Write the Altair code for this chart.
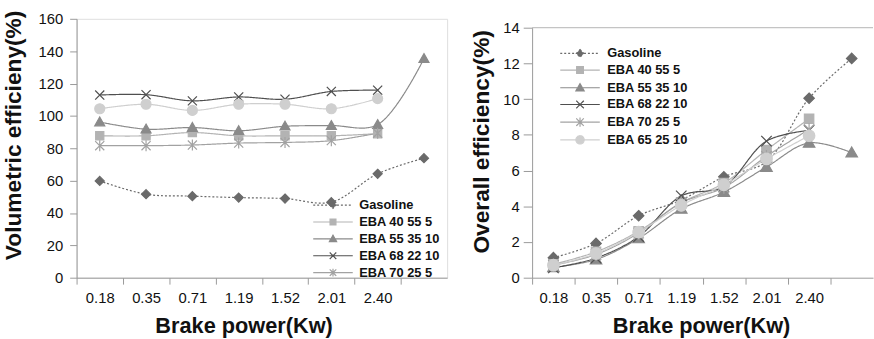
import altair as alt
import pandas as pd

# Brake power categories (the last one carries no label on the axis)
power = ["0.18", "0.35", "0.71", "1.19", "1.52", "2.01", "2.40", " "]

series = ["Gasoline", "EBA 40 55 5", "EBA 55 35 10", "EBA 68 22 10", "EBA 70 25 5", "EBA 65 25 10"]

# Volumetric efficiency (%)
vol_gasoline = [59.8, 51.6, 50.4, 49.5, 48.9, 46.7, 64.2, 73.9]
vol_eba_40_55_5 = [87.7, 87.7, 89.7, 87.7, 87.7, 87.7, 89.0, None]
vol_eba_55_35_10 = [96.2, 91.8, 92.8, 90.8, 93.6, 94.0, 94.6, 135.4]
vol_eba_68_22_10 = [112.9, 113.1, 109.3, 111.7, 110.3, 115.1, 115.9, None]
vol_eba_70_25_5 = [81.6, 81.6, 82.0, 83.2, 83.6, 84.7, 89.3, None]
vol_eba_65_25_10 = [104.4, 107.2, 103.4, 107.2, 107.2, 104.4, 110.7, None]

# Overall efficiency (%)
eff_gasoline = [1.12, 1.92, 3.47, 4.35, 5.65, 6.5, 10.05, 12.28]
eff_eba_40_55_5 = [0.75, 1.45, 2.6, 4.2, 5.3, 7.15, 8.9, None]
eff_eba_55_35_10 = [0.58, 1.02, 2.2, 3.85, 4.8, 6.2, 7.55, 7.0]
eff_eba_68_22_10 = [0.55, 1.1, 2.3, 4.58, 5.1, 7.65, 8.25, None]
eff_eba_70_25_5 = [0.7, 1.3, 2.5, 4.2, 5.05, 6.8, 8.3, None]
eff_eba_65_25_10 = [0.7, 1.35, 2.55, 4.05, 5.2, 6.65, 7.95, None]

vol_legend = ["Gasoline", "EBA 40 55 5", "EBA 55 35 10", "EBA 68 22 10", "EBA 70 25 5"]
eff_legend = series

# grey-scale styling per series
greys = ["#6a6a6a", "#b3b3b3", "#8a8a8a", "#4f4f4f", "#a2a2a2", "#cfcfcf"]
dashes = [[2, 2], [1, 0], [1, 0], [1, 0], [1, 0], [1, 0]]

FONT = "Liberation Sans"
TEXT = "#111111"
FRAME = "#b5b5b5"


def markers(r):
    """Marker outlines in pixel units (symbol size 4 gives unit scale)."""
    c = r * 1.1
    return [
        f"M0,{-r}L{r},0L0,{r}L{-r},0Z",
        f"M{-r*0.9},{-r*0.9}H{r*0.9}V{r*0.9}H{-r*0.9}Z",
        f"M0,{-c}L{c},{c*0.75}H{-c}Z",
        f"M{-r},{-r}L{r},{r}M{-r},{r}L{r},{-r}",
        f"M{-r},{-r}L{r},{r}M{-r},{r}L{r},{-r}M0,{-c*1.1}V{c*1.1}",
        f"M{-c},0A{c},{c},0,1,0,{c},0A{c},{c},0,1,0,{-c},0Z",
    ]


def legend_symbols(r, half):
    return [f"M{-half},0H{half}" + m for m in markers(r)]


def long_table(columns):
    rows = []
    for s, vals in zip(series, columns):
        for i, (p, v) in enumerate(zip(power, vals)):
            if v is not None:
                rows.append({"power": p, "series": s, "value": v, "idx": i})
    return pd.DataFrame(rows)


def panel(df, legend_names, y_title, y_max, y_step, width, height, top_gap, marker_r,
          legend_x, legend_y, row_pad, label_off, y_tick, y_pad, y_title_x, y_title_y,
          x_title_x, framed):
    step = width / len(power)
    x = alt.X(
        "power:N",
        sort=power,
        scale=alt.Scale(type="point", domain=power, padding=0.5),
        axis=alt.Axis(
            title="Brake power(Kw)",
            titleFont=FONT, titleFontSize=22, titleFontWeight="bold", titleColor=TEXT,
            titleX=x_title_x, titleY=55, titleBaseline="alphabetic", titleAlign="center",
            labelFont=FONT, labelFontSize=15, labelColor=TEXT, labelAngle=0,
            labelBaseline="alphabetic", labelPadding=19,
            tickSize=6.5, tickOffset=-step / 2, labelOffset=step / 2,
            domainColor="#999999", tickColor="#999999", grid=False,
        ),
    )
    y = alt.Y(
        "value:Q",
        scale=alt.Scale(domain=[0, y_max], nice=False, zero=True, range=[height, top_gap]),
        axis=alt.Axis(
            title=y_title,
            values=list(range(0, y_max + 1, y_step)),
            labelOverlap=False,
            titleFont=FONT, titleFontSize=23, titleFontWeight="bold", titleColor=TEXT,
            titleX=y_title_x, titleY=y_title_y, titleAlign="center", titleBaseline="bottom",
            labelFont=FONT, labelFontSize=15, labelColor=TEXT, labelPadding=y_pad,
            tickSize=y_tick, domainColor="#999999", tickColor="#999999", grid=False,
        ),
    )
    sdom = alt.Scale(domain=series, range=greys)

    lines = alt.Chart(df).mark_line(interpolate="catmull-rom", strokeWidth=1.2).encode(
        x=x, y=y,
        color=alt.Color("series:N", scale=sdom, legend=None),
        strokeDash=alt.StrokeDash("series:N", scale=alt.Scale(domain=series, range=dashes), legend=None),
        order=alt.Order("idx:Q"),
    )
    points = alt.Chart(df).mark_point(filled=True, size=4, strokeWidth=1.2, opacity=1).encode(
        x=x, y=y,
        fill=alt.Fill("series:N", scale=sdom, legend=None),
        stroke=alt.Stroke("series:N", scale=sdom, legend=None),
        shape=alt.Shape("series:N", scale=alt.Scale(domain=series, range=markers(marker_r)), legend=None),
    )

    lg = alt.Legend(
        title=None, orient="none", legendX=legend_x, legendY=legend_y, padding=0,
        labelFont=FONT, labelFontSize=13, labelFontWeight="bold", labelColor=TEXT,
        symbolSize=4, symbolStrokeWidth=1.2, labelOffset=label_off, rowPadding=row_pad,
        symbolLimit=0,
    )
    gmap = dict(zip(series, greys))
    lgrey = alt.Scale(domain=legend_names, range=[gmap[s] for s in legend_names])
    key = alt.Chart(pd.DataFrame({"series": legend_names})).transform_filter("false").mark_point(
        filled=True, size=4, strokeWidth=1.2, opacity=1
    ).encode(
        fill=alt.Fill("series:N", scale=lgrey, legend=lg),
        stroke=alt.Stroke("series:N", scale=lgrey, legend=lg),
        shape=alt.Shape("series:N", scale=alt.Scale(
            domain=legend_names,
            range=[legend_symbols(marker_r * 0.72, 20)[series.index(s)] for s in legend_names]),
            legend=lg),
        strokeDash=alt.StrokeDash("series:N", scale=alt.Scale(
            domain=legend_names, range=[dashes[series.index(s)] for s in legend_names]),
            legend=lg),
    )

    layers = [lines, points, key]
    if not framed:
        # top border of the plot area sits on the highest y value
        top = alt.Chart(pd.DataFrame({"value": [y_max]})).mark_rule(
            color=FRAME, strokeWidth=1
        ).encode(y=y)
        layers.insert(0, top)

    chart = alt.layer(*layers).resolve_scale(
        color="independent", fill="independent", stroke="independent",
        shape="independent", strokeDash="independent",
    ).properties(width=width, height=height)
    if not framed:
        chart = chart.properties(view=alt.ViewBackground(stroke="transparent"))
    return chart


vol_df = long_table([vol_gasoline, vol_eba_40_55_5, vol_eba_55_35_10,
                     vol_eba_68_22_10, vol_eba_70_25_5, vol_eba_65_25_10])
eff_df = long_table([eff_gasoline, eff_eba_40_55_5, eff_eba_55_35_10,
                     eff_eba_68_22_10, eff_eba_70_25_5, eff_eba_65_25_10])

left = panel(vol_df, vol_legend, "Volumetric efficieny(%)", 160, 20, 375, 262, 0, 4.6,
             253, 182, 3.1, 20, 7, 7, -52, 117.5, 169, True)
right = panel(eff_df, eff_legend, "Overall efficiency(%)", 14, 2, 345, 262, 9, 5.3,
              42, 28.5, 2.9, 21, 9, 4, -39, 124, 171, False)

chart = alt.hconcat(left, right, spacing=22).properties(
    padding={"left": 1.5, "top": 7, "right": 0, "bottom": 0}
).configure_view(stroke=FRAME, strokeWidth=1).configure(background="white")

chart.save("out.html", embed_options={"renderer": "svg", "actions": False})
